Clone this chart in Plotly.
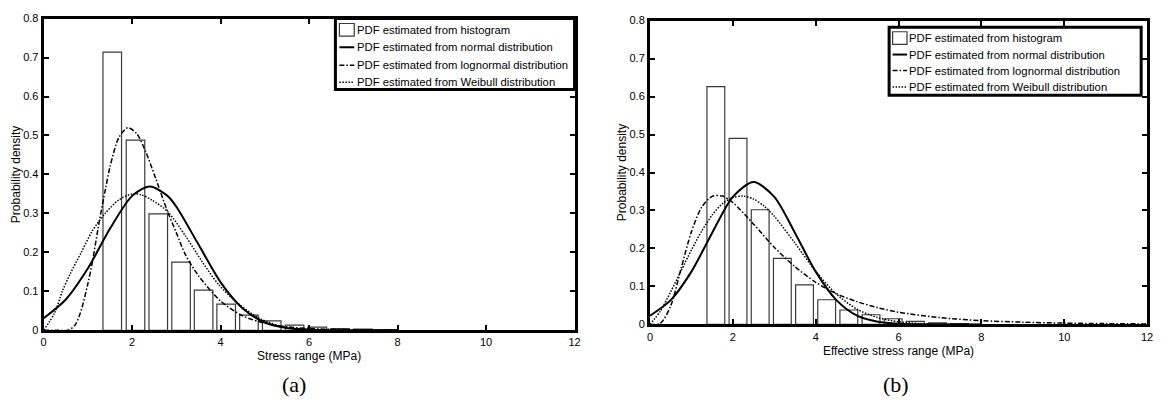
import plotly.graph_objects as go

# ---------------- data (a) ----------------
a_bin_centers = [1.55, 2.075, 2.59, 3.105, 3.615, 4.125, 4.64, 5.155, 5.67, 6.185, 6.70, 7.215, 7.73]
a_hist = [0.714, 0.488, 0.299, 0.175, 0.103, 0.067, 0.039, 0.024, 0.013, 0.008, 0.004, 0.003, 0.001]

a_norm_x = [0, 0.5, 1, 1.5, 2, 2.4, 2.8, 3, 3.5, 4, 4.5, 5, 5.5, 6, 6.5, 7, 8]
a_norm_y = [0.031, 0.079, 0.159, 0.261, 0.345, 0.369, 0.345, 0.317, 0.220, 0.123, 0.056, 0.020, 0.006, 0.0014, 0.0003, 0, 0]

a_logn_x = [0, 0.3, 0.55, 0.7, 0.83, 1.0, 1.1, 1.25, 1.4, 1.5, 1.7, 1.9, 2.1, 2.3, 2.5, 2.8, 3.0, 3.2, 3.5, 4.0, 4.5, 5.0, 5.5, 6.0, 7.0, 8.0]
a_logn_y = [0, 0, 0, 0.012, 0.045, 0.12, 0.175, 0.275, 0.365, 0.42, 0.495, 0.52, 0.505, 0.46, 0.40, 0.305, 0.25, 0.195, 0.14, 0.075, 0.037, 0.018, 0.009, 0.0045, 0.0012, 0.0003]

a_weib_x = [0, 0.25, 0.42, 0.6, 0.85, 1.1, 1.39, 1.7, 2.0, 2.2, 2.45, 2.8, 3.2, 3.57, 3.95, 4.4, 4.92, 5.44, 6.0, 7.0]
a_weib_y = [0, 0.045, 0.10, 0.145, 0.20, 0.255, 0.30, 0.335, 0.350, 0.348, 0.334, 0.305, 0.243, 0.178, 0.118, 0.068, 0.028, 0.008, 0.002, 0]

# ---------------- data (b) ----------------
b_bin_centers = [1.59, 2.125, 2.66, 3.195, 3.73, 4.265, 4.80, 5.335, 5.87, 6.405, 6.94, 7.475]
b_hist = [0.626, 0.490, 0.302, 0.174, 0.104, 0.065, 0.038, 0.0255, 0.015, 0.008, 0.004, 0.002]

b_norm_x = [0, 0.5, 1, 1.5, 2, 2.5, 3, 3.5, 4, 4.5, 5, 5.5, 6, 6.5, 7, 8]
b_norm_y = [0.023, 0.064, 0.139, 0.241, 0.336, 0.375, 0.336, 0.241, 0.139, 0.064, 0.023, 0.007, 0.0017, 0.0003, 0, 0]

b_logn_x = [0, 0.25, 0.5, 0.75, 1, 1.25, 1.5, 1.75, 2, 2.5, 3, 3.5, 4, 4.5, 5, 5.5, 6, 7, 8, 9, 10, 11, 12]
b_logn_y = [0, 0.003, 0.049, 0.147, 0.244, 0.309, 0.337, 0.338, 0.321, 0.264, 0.203, 0.152, 0.111, 0.081, 0.060, 0.044, 0.032, 0.018, 0.010, 0.006, 0.0035, 0.0022, 0.0013]

b_weib_x = [0, 0.25, 0.5, 0.75, 1, 1.25, 1.5, 1.75, 2, 2.25, 2.5, 2.75, 3, 3.5, 4, 4.5, 5, 5.5, 6, 6.5, 7, 8]
b_weib_y = [0, 0.035, 0.086, 0.141, 0.196, 0.246, 0.288, 0.318, 0.334, 0.338, 0.330, 0.312, 0.285, 0.214, 0.140, 0.080, 0.040, 0.018, 0.007, 0.0024, 0.0007, 0]

names = ["PDF estimated from histogram",
         "PDF estimated from normal distribution",
         "PDF estimated from lognormal distribution",
         "PDF estimated from Weibull distribution"]

x_ticks = [0, 2, 4, 6, 8, 10, 12]
y_ticks = [0, 0.1, 0.2, 0.3, 0.4, 0.5, 0.6, 0.7, 0.8]

FONT = "Liberation Sans, Arial, sans-serif"
SERIF = "Liberation Serif, Times New Roman, serif"
W, H = 1169, 412

BAR_MARKER = dict(color="white", line=dict(color="#3a3a3a", width=1.2))
LINE_STYLES = [
    dict(color="black", width=2),
    dict(color="black", width=1.5, dash="5px,2px,1.5px,2px"),
    dict(color="black", width=1.5, dash="1.5px,1.5px"),
]

fig = go.Figure()


def add_panel(xa, ya, centers, hist, bw, curves):
    fig.add_trace(go.Bar(x=centers, y=hist, width=bw, name=names[0], xaxis=xa, yaxis=ya,
                         showlegend=False, marker=BAR_MARKER))
    for (cx, cy), style, nm in zip(curves, LINE_STYLES, names[1:]):
        fig.add_trace(go.Scatter(x=cx, y=cy, mode="lines", name=nm, xaxis=xa, yaxis=ya, showlegend=False,
                                 line=dict(shape="spline", smoothing=0.8, **style)))


add_panel("x", "y", a_bin_centers, a_hist, 0.42,
          [(a_norm_x, a_norm_y), (a_logn_x, a_logn_y), (a_weib_x, a_weib_y)])
add_panel("x2", "y2", b_bin_centers, b_hist, 0.43,
          [(b_norm_x, b_norm_y), (b_logn_x, b_logn_y), (b_weib_x, b_weib_y)])


def px(x):
    return x / W


def py(y):
    return 1 - y / H


shapes = []
annotations = []


def legend_box(left, top, right, bottom, row_y, sym_l, sym_r, text_x):
    shapes.append(dict(type="rect", xref="paper", yref="paper", x0=px(left), x1=px(right),
                       y0=py(bottom), y1=py(top), line=dict(color="black", width=3), fillcolor="white",
                       layer="above"))
    # histogram square
    shapes.append(dict(type="rect", xref="paper", yref="paper", x0=px(sym_l), x1=px(sym_r),
                       y0=py(row_y[0] + 6.5), y1=py(row_y[0] - 6.5),
                       line=dict(color="#3a3a3a", width=1.2), fillcolor="white", layer="above"))
    for yy, style in zip(row_y[1:], LINE_STYLES):
        shapes.append(dict(type="line", xref="paper", yref="paper", x0=px(sym_l), x1=px(sym_r),
                           y0=py(yy), y1=py(yy), line=style, layer="above"))
    for yy, nm in zip(row_y, names):
        annotations.append(dict(text=nm, x=px(text_x), y=py(yy), xref="paper", yref="paper",
                                showarrow=False, xanchor="left", yanchor="middle",
                                font=dict(family=FONT, size=11.3, color="black")))


legend_box(335, 13, 576, 86, [24.5, 42.5, 61, 78.5], 339, 354, 354.5)
legend_box(893, 22, 1147, 92, [33, 50, 66.5, 83.5], 896.5, 911, 911)

annotations.append(dict(text="(a)", x=px(293), y=py(390), xref="paper", yref="paper", showarrow=False,
                        xanchor="center", yanchor="middle", font=dict(family=SERIF, size=22, color="black")))
annotations.append(dict(text="(b)", x=px(900), y=py(390), xref="paper", yref="paper", showarrow=False,
                        xanchor="center", yanchor="middle", font=dict(family=SERIF, size=22, color="black")))


def xax(domain, title, anchor):
    return dict(domain=domain, range=[0, 12], tickvals=x_ticks, ticks="inside", ticklen=5, tickwidth=2,
                tickcolor="black", showline=True, linecolor="black", linewidth=3, mirror="ticks",
                showgrid=False, zeroline=False, anchor=anchor,
                tickfont=dict(family=FONT, size=11, color="black"),
                title=dict(text=title, font=dict(family=FONT, size=12, color="black"), standoff=5))


def yax(domain, anchor):
    return dict(domain=domain, range=[0, 0.8], tickvals=y_ticks, ticks="inside", ticklen=5, tickwidth=2,
                tickcolor="black", showline=True, linecolor="black", linewidth=3, mirror="ticks",
                showgrid=False, zeroline=False, anchor=anchor,
                tickfont=dict(family=FONT, size=11, color="black"),
                title=dict(text="Probability density", font=dict(family=FONT, size=12, color="black"), standoff=0))


fig.update_layout(
    width=W, height=H, margin=dict(l=0, r=0, t=0, b=0),
    paper_bgcolor="white", plot_bgcolor="white", showlegend=False,
    xaxis=xax([px(41), px(576)], "Stress range (MPa)", "y"),
    yaxis=yax([py(334), py(13)], "x"),
    xaxis2=xax([px(652), px(1153)], "Effective stress range (MPa)", "y2"),
    yaxis2=yax([py(328), py(15)], "x2"),
    shapes=shapes,
    annotations=annotations,
)

fig.write_html("out.html")
